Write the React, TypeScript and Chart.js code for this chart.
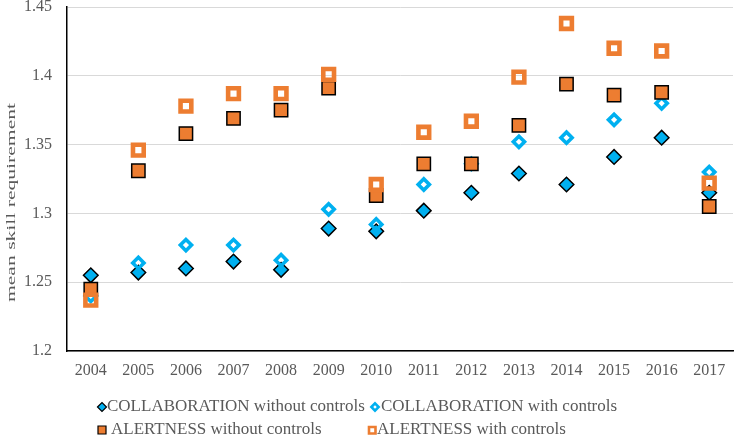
import React, { useEffect, useRef } from "react";
import { Chart, registerables } from "chart.js";

Chart.register(...registerables);

const years = ["2004", "2005", "2006", "2007", "2008", "2009", "2010", "2011", "2012", "2013", "2014", "2015", "2016", "2017"];
const collabWithout = [1.255, 1.257, 1.26, 1.265, 1.259, 1.289, 1.287, 1.302, 1.315, 1.329, 1.321, 1.341, 1.355, 1.315];
const collabWith = [1.24, 1.264, 1.277, 1.277, 1.266, 1.303, 1.292, 1.321, 1.336, 1.352, 1.355, 1.368, 1.38, 1.33];
const alertWithout = [1.245, 1.331, 1.358, 1.369, 1.375, 1.391, 1.313, 1.336, 1.336, 1.364, 1.394, 1.386, 1.388, 1.305];
const alertWith = [1.237, 1.346, 1.378, 1.387, 1.387, 1.401, 1.321, 1.359, 1.367, 1.399, 1.438, 1.42, 1.418, 1.322];
const seriesNames = [
  "COLLABORATION without controls",
  "COLLABORATION with controls",
  "ALERTNESS without controls",
  "ALERTNESS with controls",
];
const yMin = 1.2;
const yMax = 1.45;
const yStep = 0.05;
const yTitle = "mean skill requirement";

const BLUE = "#00b0f0";
const ORANGE = "#ed7d31";
const TEXT = "#595959";
const FONT = '"Liberation Serif", "Times New Roman", serif';

const extrasPlugin = {
  id: "extras",
  afterDraw(chart: any) {
    const ctx: CanvasRenderingContext2D = chart.ctx;
    ctx.save();
    ctx.translate(12, 202.5);
    ctx.rotate(-Math.PI / 2);
    ctx.font = `13px ${FONT}`;
    ctx.fillStyle = TEXT;
    ctx.textAlign = "center";
    ctx.textBaseline = "middle";
    const w = ctx.measureText(yTitle).width;
    ctx.scale(199 / w, 1);
    ctx.fillText(yTitle, 0, 0);
    ctx.restore();

    const diamond = (cx: number, cy: number, r: number) => {
      ctx.beginPath();
      ctx.moveTo(cx - r, cy);
      ctx.lineTo(cx, cy - r);
      ctx.lineTo(cx + r, cy);
      ctx.lineTo(cx, cy + r);
      ctx.closePath();
    };
    ctx.save();
    diamond(102, 407, 4.5);
    ctx.fillStyle = BLUE;
    ctx.fill();
    ctx.lineWidth = 1.2;
    ctx.strokeStyle = "#000";
    ctx.stroke();

    diamond(375, 407, 3.6);
    ctx.lineWidth = 2.6;
    ctx.strokeStyle = BLUE;
    ctx.stroke();

    ctx.beginPath();
    ctx.rect(98, 426, 8, 8);
    ctx.fillStyle = ORANGE;
    ctx.fill();
    ctx.lineWidth = 1.2;
    ctx.strokeStyle = "#000";
    ctx.stroke();

    ctx.beginPath();
    ctx.rect(369, 427, 6.5, 6.5);
    ctx.lineWidth = 2.6;
    ctx.strokeStyle = ORANGE;
    ctx.stroke();

    ctx.font = `17px ${FONT}`;
    ctx.fillStyle = TEXT;
    ctx.textAlign = "left";
    ctx.textBaseline = "middle";
    ctx.fillText(seriesNames[0], 107, 407);
    ctx.fillText(seriesNames[1], 381, 407);
    ctx.fillText(seriesNames[2], 111, 430);
    ctx.fillText(seriesNames[3], 377, 430);
    ctx.restore();
  },
};

export default function App() {
  const ref = useRef<HTMLCanvasElement>(null);
  useEffect(() => {
    if (!ref.current) return;
    const chart = new Chart(ref.current, {
      type: "line",
      data: {
        labels: years,
        datasets: [
          {
            label: seriesNames[0],
            data: collabWithout,
            showLine: false,
            pointStyle: "rectRot",
            pointRadius: 7.3,
            pointBackgroundColor: BLUE,
            pointBorderColor: "#000",
            pointBorderWidth: 1.5,
            order: 3,
          },
          {
            label: seriesNames[1],
            data: collabWith,
            showLine: false,
            pointStyle: "rectRot",
            pointRadius: 5.6,
            pointBackgroundColor: "rgba(0,0,0,0)",
            pointBorderColor: BLUE,
            pointBorderWidth: 3.6,
            order: 2,
          },
          {
            label: seriesNames[2],
            data: alertWithout,
            showLine: false,
            pointStyle: "rect",
            pointRadius: 9.4,
            pointBackgroundColor: ORANGE,
            pointBorderColor: "#000",
            pointBorderWidth: 1.5,
            order: 1,
          },
          {
            label: seriesNames[3],
            data: alertWith,
            showLine: false,
            pointStyle: "rect",
            pointRadius: 7.6,
            pointBackgroundColor: "rgba(0,0,0,0)",
            pointBorderColor: ORANGE,
            pointBorderWidth: 4.6,
            order: 0,
          },
        ],
      },
      options: {
        responsive: false,
        animation: false,
        layout: { autoPadding: false, padding: { top: 7, left: 0, right: 2, bottom: 0 } },
        plugins: {
          legend: { display: false },
          tooltip: { enabled: false },
        },
        scales: {
          x: {
            offset: true,
            grid: { display: false, drawTicks: false, tickLength: 0 },
            border: { display: true, color: "#000", width: 1.5 },
            ticks: {
              color: TEXT,
              font: { family: FONT, size: 16 },
              padding: 10,
              maxRotation: 0,
              autoSkip: false,
            },
            afterFit: (scale: any) => {
              scale.height = 96;
              scale.paddingLeft = 0;
              scale.paddingRight = 0;
            },
          },
          y: {
            min: yMin,
            max: yMax,
            grid: { color: "#d9d9d9", lineWidth: 1, drawTicks: false, tickLength: 0 },
            border: { display: true, color: "#000", width: 1.5 },
            ticks: {
              stepSize: yStep,
              color: TEXT,
              font: { family: FONT, size: 16 },
              padding: 15,
              callback: (v: any) => String(Number(Number(v).toFixed(2))),
            },
            afterFit: (scale: any) => {
              scale.width = 67;
              scale.paddingTop = 0;
              scale.paddingBottom = 0;
            },
          },
        },
      },
      plugins: [extrasPlugin],
    });
    return () => chart.destroy();
  }, []);
  return (
    <div style={{ position: "fixed", left: 0, top: 0, width: 735, height: 447, background: "#fff" }}>
      <canvas ref={ref} width={735} height={447} style={{ display: "block" }} />
    </div>
  );
}
